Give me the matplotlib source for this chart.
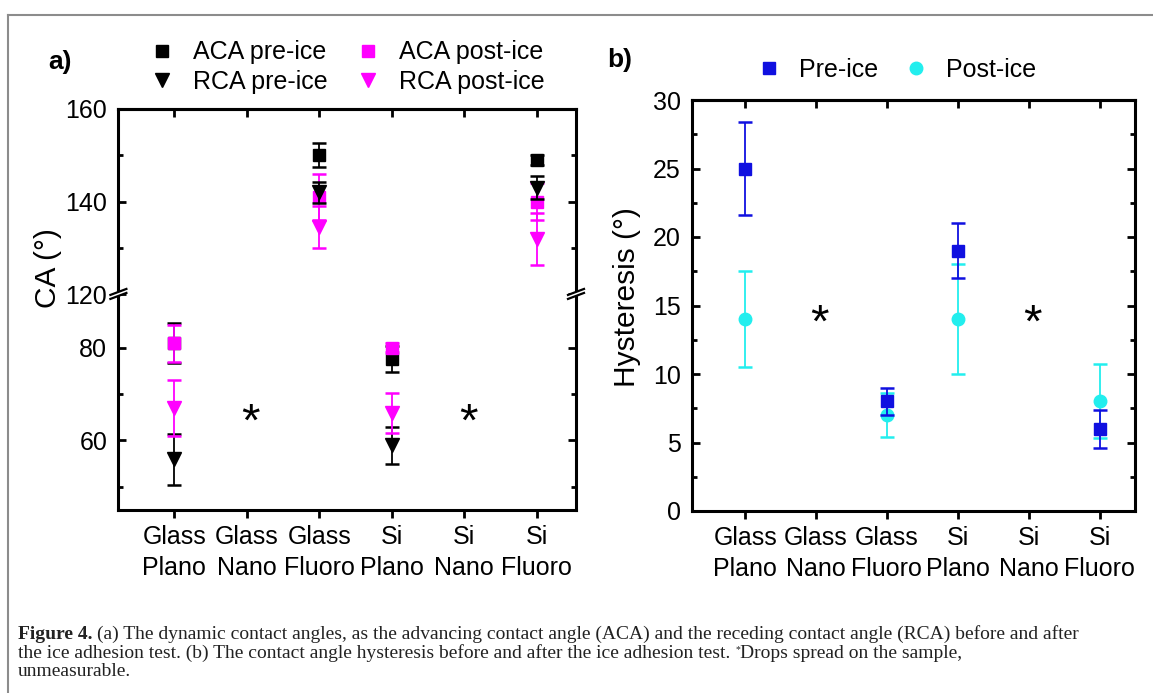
import numpy as np
import matplotlib
matplotlib.use('Agg')
import matplotlib.pyplot as plt
from matplotlib.lines import Line2D
from matplotlib.patches import Polygon
from matplotlib.transforms import IdentityTransform, offset_copy
from matplotlib.ticker import FixedLocator, MultipleLocator

W, H = 1153, 693
plt.rcParams['font.family'] = ['Liberation Sans', 'DejaVu Sans']

# ---------------- data ----------------
categories = ["Glass\nPlano", "Glass\nNano", "Glass\nFluoro",
              "Si\nPlano", "Si\nNano", "Si\nFluoro"]
nan = np.nan
aca_pre = [81, nan, 150, 77.5, nan, 149]
aca_pre_err = [4.3, nan, 2.6, 2.8, nan, 1.0]
aca_post = [81, nan, 141, 80, nan, 140]
aca_post_err = [4.0, nan, 5.0, 1.0, nan, 4.0]
rca_pre = [56, nan, 142, 59, nan, 143]
rca_pre_err = [5.5, nan, 2.2, 4.0, nan, 2.5]
rca_post = [67, nan, 134.5, 66, nan, 132]
rca_post_err = [6.0, nan, 4.5, 4.3, nan, 5.6]

hyst_pre = [25, nan, 8, 19, nan, 6]
hyst_pre_err = [3.4, nan, 1.0, 2.0, nan, 1.4]
hyst_post = [14, nan, 7, 14, nan, 8]
hyst_post_err = [3.5, nan, 1.6, 4.0, nan, 2.7]

unmeasurable = [2, 5]          # category positions (Nano samples)
star_y_a = 66
star_y_b = 14.4

labels_a = ["ACA pre-ice", "RCA pre-ice", "ACA post-ice", "RCA post-ice"]
labels_b = ["Pre-ice", "Post-ice"]

BLACK = 'black'
MAGENTA = '#FF00FF'
BLUE = '#1010E0'
CYAN = '#22EEEE'

x = np.arange(1, len(categories) + 1)

fig = plt.figure(figsize=(W / 100, H / 100), dpi=100)

axa = fig.add_axes([118.4 / W, 1 - 510 / H, (576 - 118.4) / W, (510 - 109) / H])
axb = fig.add_axes([692 / W, 1 - 511 / H, (1135 - 692) / W, (511 - 100) / H])

# ---------- broken y scale for panel a ----------
B = 91.5
BRK = 120


def fwd(y):
    y = np.asarray(y, float)
    out = np.where(y <= B, y, np.where(y >= BRK, B + (y - BRK), B))
    return np.where(np.isnan(y), np.nan, out)


def inv(v):
    v = np.asarray(v, float)
    return np.where(v <= B, v, v - B + BRK)


axa.set_yscale('function', functions=(fwd, inv))

ms = 8.5
ekw = dict(capsize=5, capthick=1.8, elinewidth=1.3, linestyle='none')
c1 = axa.errorbar(x, aca_pre, yerr=aca_pre_err, fmt='s', color=BLACK, ms=ms, zorder=3, **ekw)
c2 = axa.errorbar(x, aca_post, yerr=aca_post_err, fmt='s', color=MAGENTA, ms=ms, zorder=3.1, **ekw)
c3 = axa.errorbar(x, rca_pre, yerr=rca_pre_err, fmt='v', color=BLACK, ms=ms + 1, zorder=3.2, **ekw)
c4 = axa.errorbar(x, rca_post, yerr=rca_post_err, fmt='v', color=MAGENTA, ms=ms + 1, zorder=3.3, **ekw)

axa.set_ylim(45, 160)
axa.set_xlim(0.23, 6.54)

d1 = axb.errorbar(x, hyst_post, yerr=hyst_post_err, fmt='o', color=CYAN, ms=ms + 0.5, zorder=3, **ekw)
d2 = axb.errorbar(x, hyst_pre, yerr=hyst_pre_err, fmt='s', color=BLUE, ms=ms, zorder=3.1, **ekw)
axb.set_ylim(0, 30)
axb.set_xlim(0.25, 6.5)

FS = 18
STAR = 34
for ax, sy in ((axa, star_y_a), (axb, star_y_b)):
    tr = offset_copy(ax.transData, fig=fig, y=-0.49 * STAR, units='points')
    for xs in unmeasurable:
        ax.text(xs + 0.05, sy, '*', fontsize=STAR, ha='center', va='baseline', transform=tr)
    ax.set_xticks(x)
    ax.set_xticklabels(categories, linespacing=1.38)
    for s in ax.spines.values():
        s.set_linewidth(2.2)
    ax.tick_params(axis='x', which='major', direction='out', length=6, width=2,
                   bottom=True, top=False, pad=5, labelsize=FS)
    ax.tick_params(axis='y', which='major', direction='in', length=6, width=2,
                   left=True, right=True, pad=8, labelsize=FS)
    ax.tick_params(axis='y', which='minor', direction='in', length=3.5, width=2,
                   left=True, right=True)
    sec = ax.secondary_xaxis('top')
    sec.set_xticks(x)
    sec.tick_params(direction='in', length=6, width=2, labeltop=False)
    sec.spines['top'].set_linewidth(2.2)

axa.yaxis.set_major_locator(FixedLocator([60, 80, 120, 140, 160]))
axa.yaxis.set_minor_locator(FixedLocator([50, 70, 130, 150]))
axa.yaxis.set_major_formatter(plt.FuncFormatter(lambda v, p: f"{v:.0f}"))
axa.yaxis.set_minor_formatter(plt.NullFormatter())
axb.yaxis.set_major_locator(MultipleLocator(5))
axb.yaxis.set_minor_locator(MultipleLocator(2.5))

# axis labels
fig.text(48 / W, 1 - 268 / H, 'CA (°)', rotation=90, ha='center', va='center', fontsize=21.5)
fig.text(627 / W, 1 - 297 / H, 'Hysteresis (°)', rotation=90, ha='center', va='center', fontsize=21.5)
fig.text(60 / W, 1 - 62 / H, 'a)', ha='center', va='center', fontsize=19, fontweight='bold')
fig.text(620 / W, 1 - 60 / H, 'b)', ha='center', va='center', fontsize=19, fontweight='bold')

# legends
fig.legend([c1[0], c3[0], c2[0], c4[0]], labels_a, ncol=2, loc='center',
           bbox_to_anchor=(347 / W, 1 - 67 / H), frameon=False, fontsize=FS,
           handlelength=1.0, handletextpad=0.75, columnspacing=1.1,
           labelspacing=0.2, borderpad=0, borderaxespad=0)
fig.legend([d2[0], d1[0]], labels_b, ncol=2, loc='center',
           bbox_to_anchor=(896 / W, 1 - 70 / H), frameon=False, fontsize=FS,
           handlelength=1.0, handletextpad=0.7, columnspacing=1.0,
           borderpad=0, borderaxespad=0)

# break marks on the broken axis
for xa in (0, 1):
    sx = axa.transAxes.transform((xa, 0))[0]
    sy = axa.transData.transform((1, BRK))[1]
    poly = Polygon([[sx - 8, sy - 4.5], [sx + 8, sy + 1.5], [sx + 8, sy + 5.5], [sx - 8, sy - 0.5]],
                   closed=True, facecolor='white', edgecolor='none',
                   transform=IdentityTransform(), zorder=10)
    fig.add_artist(poly)
    for off in (-4.5, -0.5):
        fig.add_artist(Line2D([sx - 8, sx + 8], [sy + off, sy + off + 6], color='black', lw=1.6,
                              transform=IdentityTransform(), zorder=11))

# frame lines
fig.add_artist(Line2D([8 / W, 1], [1 - 15 / H, 1 - 15 / H], color='#8c8c8c', lw=1.5))
fig.add_artist(Line2D([8 / W, 8 / W], [0, 1 - 15 / H], color='#8c8c8c', lw=1.5))

# ---------- caption ----------
fig.canvas.draw()
r = fig.canvas.get_renderer()
SERIF = ['Liberation Serif', 'DejaVu Serif']


def wid(s, size, weight='normal'):
    t = fig.text(0, 0, s, fontsize=size, fontweight=weight, family=SERIF)
    w = t.get_window_extent(r).width
    t.remove()
    return w


line1 = [('Figure 4.', 'bold', 1.0, 0), (' ', None, 1, 0),
         ('(a) The dynamic contact angles, as the advancing contact angle (ACA) and the receding contact angle (RCA) before and after', 'normal', 1.0, 0)]
line2 = [('the ice adhesion test. (b) The contact angle hysteresis before and after the ice adhesion test.', 'normal', 1.0, 0),
         (' ', None, 1, 0), ('*', 'normal', 0.5, 0.28), ('Drops spread on the sample,', 'normal', 1.0, 0)]
line3 = [('unmeasurable.', 'normal', 1.0, 0)]


def line_width(pieces, size):
    sp = wid('a a', size) - wid('aa', size)
    tot = 0
    for s, wgt, sc, rise in pieces:
        tot += sp if wgt is None else wid(s, size * sc, wgt)
    return tot


X0 = 18
base = 12.0
size = min(base * (1128 - X0) / line_width(line1, base), 14.0)


def place(pieces, x0, yb, size):
    sp = wid('a a', size) - wid('aa', size)
    xx = x0
    for s, wgt, sc, rise in pieces:
        if wgt is None:
            xx += sp
            continue
        t = fig.text(xx / W, 1 - (yb - rise * size * 100 / 72) / H, s, fontsize=size * sc,
                     fontweight=wgt, family=SERIF, ha='left', va='baseline', color='#222222')
        xx += t.get_window_extent(r).width


place(line1, X0, 639, size)
place(line2, X0, 657.7, size)
place(line3, X0, 676.4, size)

fig.savefig('out.png', dpi=100)
